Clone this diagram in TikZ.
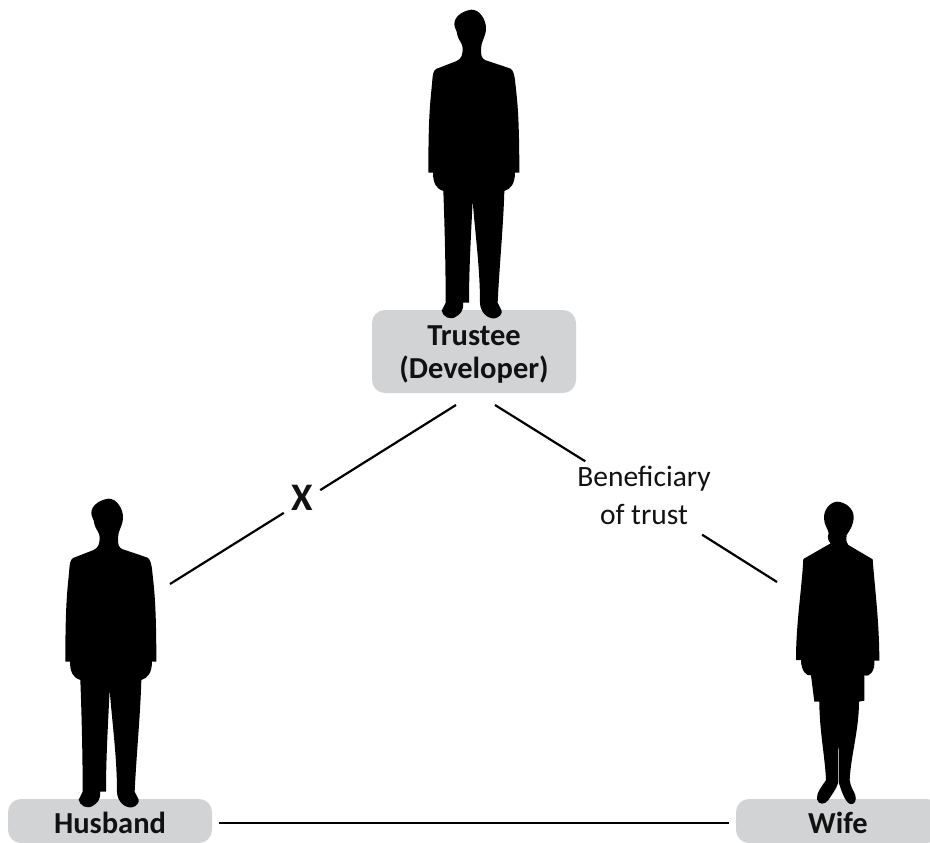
\documentclass[tikz,border=0pt]{standalone}
\usepackage{fontspec}
\setmainfont{Carlito}
\definecolor{boxgray}{HTML}{D1D3D4}
\definecolor{inkblack}{HTML}{111111}
\newcommand{\manshape}{
 \fill[black] (215,29) .. controls (190,32) and (163,48) .. (163,72)
  .. controls (163,85) and (172,92) .. (172,105)
  .. controls (175,120) and (188,130) .. (188,145)
  .. controls (188,165) and (185,175) .. (170,183)
  -- (108,207) .. controls (100,212) and (98,225) .. (97,240)
  .. controls (92,300) and (85,330) .. (85,518)
  -- (99,518) .. controls (99,550) and (110,568) .. (130,573)
  .. controls (134,680) and (137,800) .. (137,908)
  -- (125,932) .. controls (128,950) and (150,962) .. (168,950)
  .. controls (180,943) and (192,932) .. (189,908)
  -- (207,908) .. controls (207,800) and (214,690) .. (218,600)
  .. controls (224,690) and (240,800) .. (240,908)
  .. controls (240,935) and (262,958) .. (285,955)
  .. controls (298,952) and (307,942) .. (305,932)
  -- (293,908) .. controls (298,800) and (310,680) .. (313,573)
  .. controls (332,568) and (345,550) .. (345,518)
  -- (358,518) .. controls (358,330) and (350,290) .. (345,240)
  .. controls (343,225) and (340,212) .. (332,206)
  -- (255,180) .. controls (245,175) and (242,165) .. (243,145)
  .. controls (243,125) and (258,110) .. (258,85)
  .. controls (258,60) and (240,29) .. (215,29) -- cycle;
}
\newcommand{\womanshape}{
 \fill[black] (170,35) .. controls (148,38) and (131,60) .. (132,85)
  .. controls (132,105) and (145,118) .. (146,130)
  .. controls (140,142) and (146,155) .. (152,160)
  -- (70,207) .. controls (65,300) and (48,400) .. (48,510)
  -- (63,510) .. controls (63,540) and (78,560) .. (93,556)
  -- (103,635) -- (118,635)
  .. controls (118,720) and (135,800) .. (138,870)
  .. controls (125,890) and (108,910) .. (111,928)
  .. controls (115,945) and (135,945) .. (145,930)
  .. controls (155,915) and (170,895) .. (174,880)
  -- (175.5,670) -- (177,880)
  .. controls (185,905) and (195,935) .. (210,942)
  .. controls (225,945) and (230,930) .. (226,915)
  .. controls (222,905) and (212,892) .. (209,870)
  .. controls (212,800) and (237,720) .. (237,635)
  -- (253,632) -- (253,556)
  .. controls (272,562) and (285,540) .. (283,512)
  -- (298,512) .. controls (298,400) and (285,300) .. (278,208)
  -- (205,165) .. controls (198,155) and (197,145) .. (200,135)
  .. controls (210,120) and (221,105) .. (221,80)
  .. controls (221,55) and (195,35) .. (170,35) -- cycle;
}
\newcommand{\labelat}[2]{\raisebox{#1}[0pt][0pt]{\begin{tabular}[t]{@{}c@{}}#2\end{tabular}}}
\tikzset{
 x=1pt,y=-1pt,
 namebox/.style={fill=boxgray,rounded corners=13pt,inner sep=0pt,minimum width=204pt,text=inkblack,font=\fontsize{30.5}{33}\selectfont\bfseries},
 link/.style={draw=black,line width=2.2pt},
 plain/.style={inner sep=0pt,text=inkblack},
}
\begin{document}
\begin{tikzpicture}
\useasboundingbox (0,0) rectangle (930,843);
\clip (0,0) rectangle (930,843);
% boxes
\node[namebox,minimum height=83pt] (trustee) at (474,351.5) {\labelat{6.5pt}{Trustee\\(Developer)}};
\node[namebox,minimum height=44pt] (husband) at (110,821) {\labelat{-12pt}{Husband}};
\node[namebox,minimum height=44pt] (wife) at (838,821) {\labelat{-12pt}{Wife}};
% people
\begin{scope}[shift={(400,0)},scale=1/3]\manshape\end{scope}
\begin{scope}[shift={(37,489)},scale=1/3]\manshape\end{scope}
\begin{scope}[shift={(780,490)},scale=1/3]\womanshape\end{scope}
% labels
\node[plain,minimum width=36pt,minimum height=30pt,font=\fontsize{39}{39}\selectfont\bfseries] (xmark) at (302,501.5) {\labelat{-8.5pt}{X}};
\node[plain,minimum width=140pt,minimum height=73pt,font=\fontsize{29.5}{38}\selectfont] (benef) at (644,498) {\labelat{12pt}{Beneficiary\\of trust}};
% connector ends
\coordinate (xa) at (456,405);
\coordinate (xb) at (170,584);
\coordinate (ba) at (495,405);
\coordinate (bb) at (777,582);
% connectors
\draw[link] (xa) -- (xmark) -- (xb);
\draw[link] (ba) -- (benef) -- (bb);
\draw[link,shorten <=7pt,shorten >=7pt] ([yshift=-2pt]husband.east) -- ([yshift=-2pt]wife.west);
\end{tikzpicture}
\end{document}
